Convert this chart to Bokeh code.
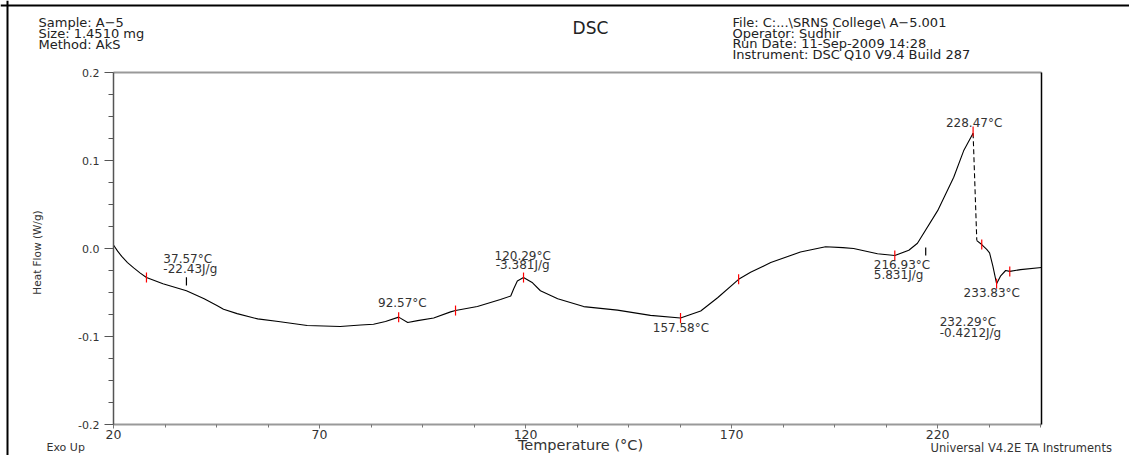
import numpy as np
from bokeh.plotting import figure
from bokeh.models import Range1d, LinearAxis, FixedTicker, Label, Span
from bokeh.embed import file_html
from bokeh.resources import INLINE

# ---------------- data ----------------
temp = [20, 21, 22, 23.4, 24.9, 26.5, 28, 32, 37.7, 42, 45.2, 46.7, 50, 55, 60, 67, 75,
        80, 83.1, 86, 89.2, 91.4, 93.8, 97.7, 101.8, 103, 108.3, 113.9, 116.4, 117.1,
        118, 119.5, 121.7, 123.6, 127.8, 134.1, 142.3, 150.3, 157.6, 162.5, 166.6,
        171.7, 174.6, 179.5, 186.7, 192.8, 197, 199.6, 205.4, 209.6, 213, 215.1,
        220, 223.9, 226.3, 228.6]
heat_flow = [0.004, -0.003, -0.009, -0.016, -0.022, -0.028, -0.033, -0.040, -0.048,
             -0.057, -0.065, -0.069, -0.074, -0.080, -0.083, -0.0875, -0.0886, -0.087,
             -0.086, -0.083, -0.078, -0.084, -0.082, -0.079, -0.072, -0.0705, -0.066,
             -0.058, -0.054, -0.046, -0.037, -0.033, -0.039, -0.048, -0.057, -0.066,
             -0.070, -0.076, -0.079, -0.071, -0.056, -0.035, -0.027, -0.016, -0.004,
             0.002, 0.001, 0.0, -0.006, -0.008, -0.002, 0.006, 0.043, 0.081, 0.111, 0.131]
drop_temp = [228.6, 229.5]
drop_hf = [0.131, 0.009]
tail_temp = [229.5, 230.7, 231.9, 232.6, 233.4, 234.3, 235.3, 236.5, 237.5, 240.1, 245.2]
tail_hf = [0.009, 0.0045, -0.001, -0.005, -0.020, -0.040, -0.031, -0.025, -0.026, -0.024, -0.0216]

mark_temp = [28, 89.2, 103, 119.5, 157.6, 171.7, 209.6, 228.6, 230.7, 234.3, 237.5]
mark_hf = [-0.033, -0.078, -0.0705, -0.033, -0.079, -0.035, -0.008, 0.133, 0.0045, -0.040, -0.026]

onset_temp = [37.7, 217.1]
onset_top = [-0.0326, 0.0011]
onset_bottom = [-0.042, -0.008]

ann_text = ["37.57\u00b0C", "-22.43J/g", "92.57\u00b0C", "120.29\u00b0C", "-3.381J/g",
            "157.58\u00b0C", "216.93\u00b0C", "5.831J/g", "228.47\u00b0C", "233.83\u00b0C",
            "232.29\u00b0C", "-0.4212J/g"]
ann_temp = [32.1, 32.1, 90.1, 119.3, 119.3, 157.7, 204.5, 204.5, 228.85, 226.3, 220.5, 220.5]
ann_hf = [-0.0167, -0.028, -0.066, -0.0129, -0.0231, -0.0951, -0.0231, -0.0345, 0.1379,
          -0.0553, -0.0886, -0.100]
ann_align = ["left", "left", "center", "center", "center", "center", "left", "left",
             "center", "left", "left", "left"]

x_ticks = [20, 70, 120, 170, 220]
x_tick_labels = ["20", "70", "120", "170", "220"]
x_minor = [32.5, 45, 57.5, 82.5, 95, 107.5, 132.5, 145, 157.5, 182.5, 195, 207.5, 232.5, 245]
y_ticks = [-0.2, -0.1, 0.0, 0.1, 0.2]
y_tick_labels = ["-0.2", "-0.1", "0.0", "0.1", "0.2"]
y_minor = [-0.175, -0.15, -0.125, -0.075, -0.05, -0.025, 0.025, 0.05, 0.075, 0.125, 0.15, 0.175]
x_limits = [20, 245.2]
y_limits = [-0.2, 0.2]

header_left = ["Sample: A\u22125", "Size:  1.4510 mg", "Method: AkS"]
header_right = ["File: C:...\\SRNS College\\ A\u22125.001", "Operator: Sudhir",
                "Run Date: 11-Sep-2009 14:28", "Instrument: DSC Q10 V9.4 Build 287"]

# ---------------- layout ----------------
FONT = "DejaVu Sans"
TXT = "#333333"
W, H = 1129, 455
PX_LEFT, PX_RIGHT, PX_TOP, PX_BOTTOM = 113, 1041, 72, 424
TEXT_LIFT = 4   # px: compensates Bokeh's placement of alphabetic-baseline labels


def px2x(px):
    return x_limits[0] + (px - PX_LEFT) * (x_limits[1] - x_limits[0]) / (PX_RIGHT - PX_LEFT)


def px2y(py):
    return y_limits[1] - (py - PX_TOP) * (y_limits[1] - y_limits[0]) / (PX_BOTTOM - PX_TOP)


lift_data = TEXT_LIFT * (y_limits[1] - y_limits[0]) / (PX_BOTTOM - PX_TOP)

p = figure(width=W, height=H, output_backend="svg", toolbar_location=None,
           x_range=Range1d(px2x(0), px2x(W)), y_range=Range1d(px2y(H), px2y(0)),
           min_border=0)
p.min_border_left = p.min_border_right = p.min_border_top = p.min_border_bottom = 0
p.outline_line_color = None
p.grid.visible = False
p.background_fill_color = "white"
p.border_fill_color = "white"

xa = p.xaxis[0]
xa.fixed_location = y_limits[0]
xa.bounds = tuple(x_limits)
xa.ticker = FixedTicker(ticks=x_ticks, minor_ticks=x_minor)
xa.major_label_overrides = dict(zip(x_ticks, x_tick_labels))
xa.axis_line_color = "#999999"
xa.axis_line_width = 2
xa.major_tick_line_color = "#777777"
xa.minor_tick_line_color = "#777777"
xa.major_tick_in = 0
xa.major_tick_out = 4
xa.minor_tick_in = 0
xa.minor_tick_out = 3
xa.major_label_standoff = 1
xa.major_label_text_font = FONT
xa.major_label_text_font_size = "12.5px"
xa.major_label_text_color = TXT

ya = p.yaxis[0]
ya.fixed_location = x_limits[0]
ya.bounds = tuple(y_limits)
ya.ticker = FixedTicker(ticks=y_ticks, minor_ticks=y_minor)
ya.major_label_overrides = dict(zip(y_ticks, y_tick_labels))
ya.axis_line_color = "#555555"
ya.axis_line_width = 1.5
ya.major_tick_line_color = "#555555"
ya.minor_tick_line_color = "#555555"
ya.major_tick_in = 0
ya.major_tick_out = 9
ya.minor_tick_in = 0
ya.minor_tick_out = 5
ya.major_label_standoff = 5
ya.major_label_text_font = FONT
ya.major_label_text_font_size = "11px"
ya.major_label_text_color = TXT

top_axis = LinearAxis(fixed_location=y_limits[1], bounds=tuple(x_limits),
                      axis_line_color="#999999", axis_line_width=2,
                      major_tick_line_color=None, minor_tick_line_color=None,
                      major_label_text_font_size="0px", ticker=FixedTicker(ticks=[]))
p.add_layout(top_axis, "above")
right_axis = LinearAxis(fixed_location=x_limits[1], bounds=tuple(y_limits),
                        axis_line_color="black", axis_line_width=1.5,
                        major_tick_line_color=None, minor_tick_line_color=None,
                        major_label_text_font_size="0px", ticker=FixedTicker(ticks=[]))
p.add_layout(right_axis, "right")

# outer page frame (left and top edges)
p.add_layout(Span(location=px2x(7), dimension="height", line_color="black", line_width=2))
p.add_layout(Span(location=px2y(5), dimension="width", line_color="black", line_width=2))

# ---------------- curve ----------------
p.line(temp, heat_flow, line_color="black", line_width=1.1)
p.line(drop_temp, drop_hf, line_color="black", line_width=1.1, line_dash="5 3")
p.line(tail_temp, tail_hf, line_color="black", line_width=1.1)
p.segment(x0=onset_temp, y0=onset_top, x1=onset_temp, y1=onset_bottom,
          line_color="black", line_width=1.2)
p.scatter(mark_temp, mark_hf, marker="dash", angle=np.pi / 2, size=10,
          line_color="red", line_width=1.2)

for t, x, y, a in zip(ann_text, ann_temp, ann_hf, ann_align):
    p.add_layout(Label(x=x, y=y + lift_data, text=t, text_align=a,
                       text_baseline="alphabetic", text_font=FONT,
                       text_font_size="12px", text_color=TXT))


def plabel(text, rx, ry, size, align="left", angle=0.0, baseline="alphabetic",
           color="#222222", lift=TEXT_LIFT):
    p.add_layout(Label(x=px2x(rx), y=px2y(ry - lift), text=text, text_align=align,
                       text_baseline=baseline, angle=angle, text_font=FONT,
                       text_font_size=size, text_color=color))


for i, t in enumerate(header_left):
    plabel(t, 38, 26 + 11 * i, "13px")
for i, t in enumerate(header_right):
    plabel(t, 732, 26 + 10.7 * i, "13px")
plabel("DSC", 590, 31, "17px", align="center")
plabel("Heat Flow (W/g)", 36, 252, "10.5px", align="center", angle=np.pi / 2,
       baseline="middle", color=TXT, lift=0)
plabel("Temperature (\u00b0C)", 580, 454, "14.5px", align="center", color=TXT, lift=10)
plabel("Exo Up", 46, 451, "11px", color=TXT)
plabel("Universal V4.2E TA Instruments", 930, 451, "11.5px", color=TXT)

open("out.html", "w").write(file_html(p, INLINE))
